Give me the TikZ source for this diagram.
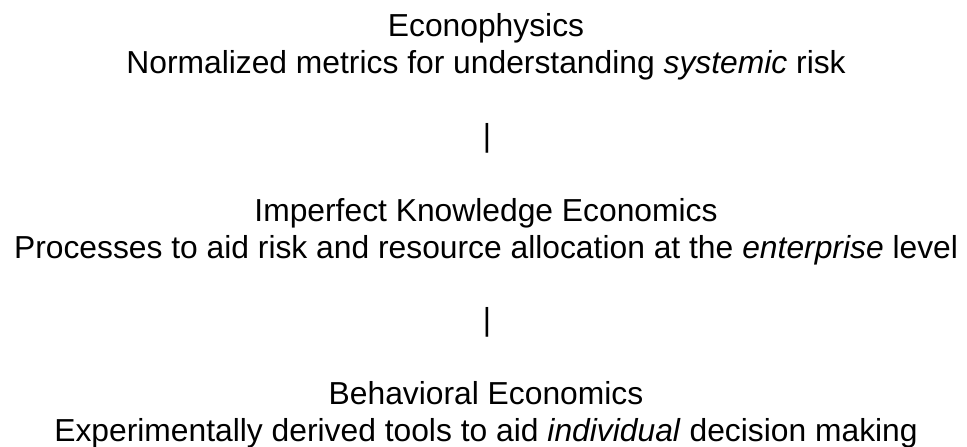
\documentclass[tikz,border=0pt]{standalone}
\usepackage{fontspec}
\setmainfont{Liberation Sans}
\begin{document}
\begin{tikzpicture}[x=1pt,y=1pt,font=\fontsize{31.8}{37}\selectfont]
\useasboundingbox (0,0) rectangle (967,447);
\tikzset{line/.style={anchor=base,inner sep=0pt}}
 \node[line](econ) at (486,410){Econophysics};
 \node[line](econtxt) at (486,373.5){Normalized metrics for understanding \textit{systemic} risk};
 \node[line](bar1) at (487,300){|};
 \node[line](ike) at (486,225){Imperfect Knowledge Economics};
 \node[line](iketxt) at (486,188){Processes to aid risk and resource allocation at the \textit{enterprise} level};
 \node[line](bar2) at (487,116){|};
 \node[line](beh) at (486,42){Behavioral Economics};
 \node[line](behtxt) at (486,5){Experimentally derived tools to aid \textit{individual} decision making};
\end{tikzpicture}
\end{document}
